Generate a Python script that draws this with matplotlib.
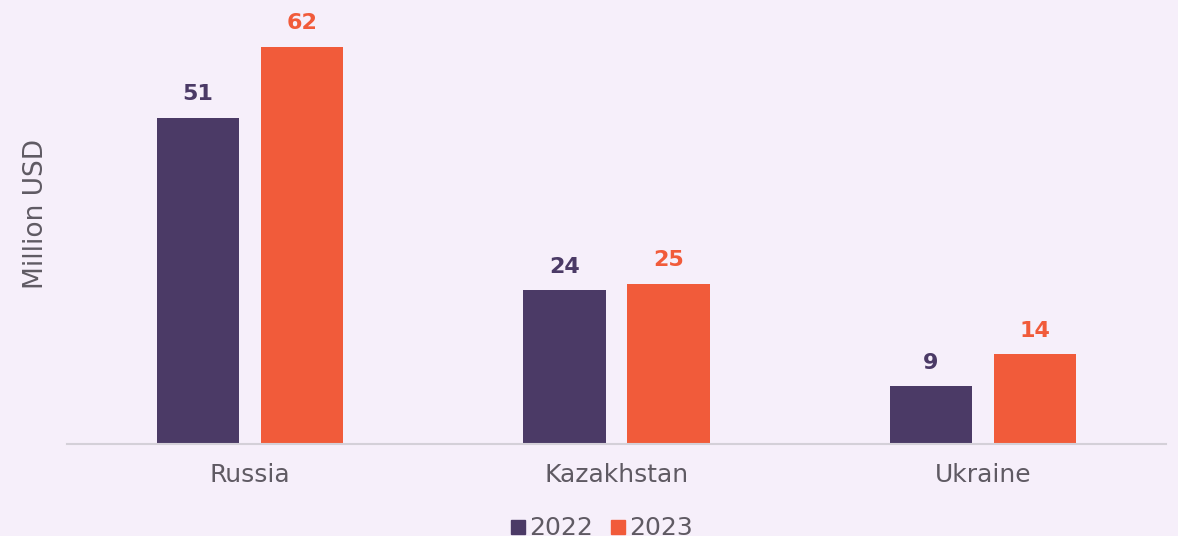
import matplotlib.pyplot as plt
import numpy as np

countries = ['Russia', 'Kazakhstan', 'Ukraine']
values_2022 = [51, 24, 9]
values_2023 = [62, 25, 14]
years = ['2022', '2023']

purple = '#4b3a66'
orange = '#f15b3a'
bg = '#f6effa'
gray = '#5f5a63'

fig = plt.figure(figsize=(11.78, 5.36), dpi=100, facecolor=bg)
# axes top sits a little above the figure edge, like the original layout
ax = fig.add_axes([67 / 1178, 92 / 536, 1099 / 1178, 460 / 536])
ax.set_facecolor(bg)

x = np.arange(len(countries))
w = 0.224
off = 0.142

b1 = ax.bar(x - off, values_2022, w, color=purple, label=years[0])
b2 = ax.bar(x + off, values_2023, w, color=orange, label=years[1])

# value labels above bars
for bars, col in [(b1, purple), (b2, orange)]:
    for b in bars:
        ax.annotate(f'{b.get_height():g}', (b.get_x() + b.get_width() / 2, b.get_height()),
                    xytext=(0, 10), textcoords='offset points', ha='center', va='bottom',
                    fontsize=16, fontweight='bold', color=col)

ax.set_xlim(-0.5, 2.5)
ax.set_ylim(0, 71.9)
ax.set_xticks(x)
ax.set_xticklabels(countries, fontsize=18, color=gray)
ax.tick_params(axis='x', length=0, pad=14)
ax.set_yticks([])
ax.set_ylabel('Million USD', fontsize=19, color=gray, labelpad=13)

for s in ['top', 'right', 'left']:
    ax.spines[s].set_visible(False)
ax.spines['bottom'].set_color('#d4d0d8')
ax.spines['bottom'].set_linewidth(1.5)

handles = [plt.Line2D([], [], marker='s', linestyle='none', markersize=10, color=c)
           for c in [purple, orange]]
fig.legend(handles, years, loc='lower center', bbox_to_anchor=(0.51, -0.05), ncol=2,
           frameon=False, fontsize=18, labelcolor=gray, handletextpad=0.05,
           columnspacing=0.6, handlelength=0.8)

plt.savefig('out.png', facecolor=bg)
